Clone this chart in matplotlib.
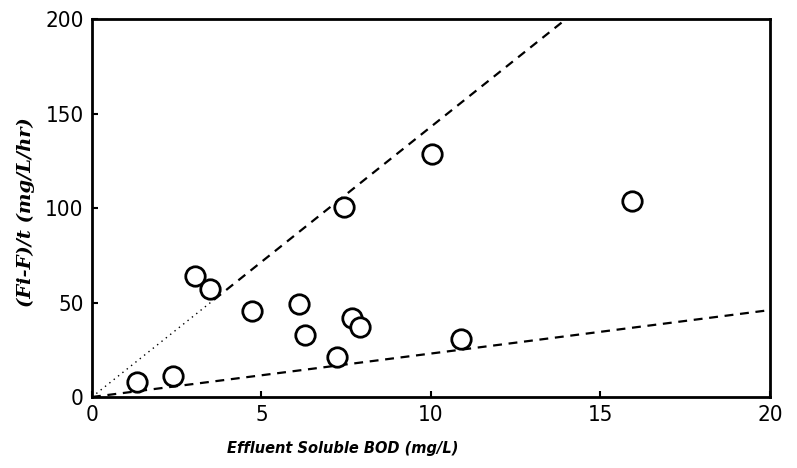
import matplotlib
matplotlib.use("Agg")
import matplotlib.pyplot as plt
import numpy as np

# data
bod = [1.34, 2.40, 3.05, 3.48, 4.71, 6.12, 6.28, 7.66, 7.91, 7.23, 10.9, 7.42, 10.03, 15.92]
rate = [8.1, 11.1, 64, 57, 45.3, 49, 32.8, 41.6, 36.9, 21.3, 30.5, 100.7, 128.4, 103.7]
upper_slope = 14.3
lower_slope = 2.3
xticks = [0, 5, 10, 15, 20]
yticks = [0, 50, 100, 150, 200]

fig = plt.figure(figsize=(7.97, 4.68), dpi=100)
ax = fig.add_axes([0.1154, 0.1517, 0.8507, 0.8077])

# upper line: dotted near origin, dashed beyond
xa = np.array([0, 3.6])
ax.plot(xa, upper_slope * xa, color="black", lw=1.0, ls=(0, (1, 3)))
xb = np.array([3.6, 200 / upper_slope])
ax.plot(xb, upper_slope * xb, color="black", lw=1.6, ls=(0, (4, 3)))
# lower line dashed
xl = np.array([0, 20])
ax.plot(xl, lower_slope * xl, color="black", lw=1.6, ls=(0, (4, 3)))

ax.plot(bod, rate, ls="none", marker="o", ms=14, mfc="white", mec="black", mew=2)

ax.set_xlim(0, 20)
ax.set_ylim(0, 200)
ax.set_xticks(xticks)
ax.set_yticks(yticks)
fam = ["DejaVu Sans"]
ax.set_xticklabels([str(t) for t in xticks], family=fam, fontsize=16, fontstretch="condensed")
ax.set_yticklabels([str(t) for t in yticks], family=fam, fontsize=16, fontstretch="condensed")
ax.tick_params(direction="in", length=4, width=1.5, pad=6)
for s in ax.spines.values():
    s.set_linewidth(2)

fig.text(0.43, 0.042, "Effluent Soluble BOD (mg/L)", ha="center", va="center",
         family="DejaVu Sans", style="italic", weight="bold", fontsize=10.5)
fig.text(0.032, 0.547, "(Fi-F)/t (mg/L/hr)", ha="center", va="center", rotation=90,
         family="DejaVu Serif", style="italic", weight="bold", fontsize=14)

fig.savefig("out.png", dpi=100)
